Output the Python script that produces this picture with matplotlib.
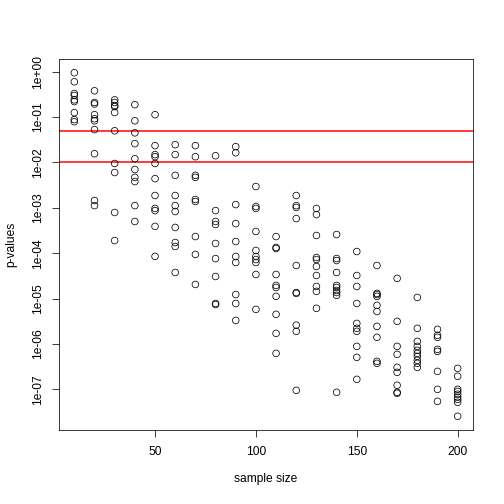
import matplotlib
matplotlib.use("Agg")
import matplotlib.pyplot as plt
import numpy as np

plt.rcParams['font.family'] = ['Liberation Sans', 'DejaVu Sans']

sample_sizes = [10, 20, 30, 40, 50, 60, 70, 80, 90, 100,
                110, 120, 130, 140, 150, 160, 170, 180, 190, 200]

pvals = {
    10: [0.95, 0.60, 0.33, 0.30, 0.24, 0.22, 0.125, 0.088, 0.079],
    20: [0.38, 0.21, 0.195, 0.113, 0.092, 0.083, 0.053, 0.0156, 0.00145, 0.00112],
    30: [0.24, 0.21, 0.18, 0.17, 0.126, 0.050, 0.0095, 0.0060, 0.00079, 0.00019],
    40: [0.188, 0.083, 0.045, 0.026, 0.0121, 0.0070, 0.0047, 0.0038, 0.00112, 0.00050],
    50: [0.113, 0.0235, 0.0149, 0.0134, 0.0095, 0.0044, 0.00187, 0.00097, 0.00087,
         0.00039, 0.000085],
    60: [0.0247, 0.0149, 0.0052, 0.00187, 0.00112, 0.00083, 0.00037, 0.000172,
         0.000141, 0.0000376],
    70: [0.0235, 0.0134, 0.0052, 0.0047, 0.00153, 0.00138, 0.000233, 0.000094, 0.0000205],
    80: [0.0141, 0.00087, 0.00050, 0.00043, 0.000164, 0.000076, 0.0000307,
         0.0000078, 0.0000074],
    90: [0.0223, 0.0164, 0.00118, 0.00045, 0.000181, 0.0000846, 0.0000624,
         0.0000123, 0.0000078, 0.0000033],
    100: [0.00295, 0.00107, 0.00097, 0.000301, 0.000115, 0.0000846, 0.0000726,
          0.0000624, 0.000034, 0.00000578],
    110: [0.000233, 0.000134, 0.000127, 0.000034, 0.0000195, 0.0000176, 0.0000112,
          0.0000045, 0.00000171, 0.00000062],
    120: [0.00187, 0.00112, 0.00102, 0.00058, 0.0000536, 0.0000136, 0.000013,
          0.0000026, 0.0000019, 0.000000095],
    130: [0.00097, 0.00071, 0.000246, 0.0000804, 0.0000726, 0.0000510, 0.0000323,
          0.0000185, 0.0000144, 0.0000061],
    140: [0.000258, 0.0000764, 0.000069, 0.0000376, 0.0000195, 0.0000176, 0.0000151,
          0.0000136, 0.0000118, 0.000000086],
    150: [0.000109, 0.0000323, 0.0000185, 0.0000078, 0.00000284, 0.00000221,
          0.0000019, 0.000000885, 0.000000507, 0.000000166],
    160: [0.0000536, 0.000013, 0.0000123, 0.0000112, 0.0000071, 0.0000052,
          0.00000244, 0.0000014, 0.000000414, 0.000000374],
    170: [0.0000279, 0.00000315, 0.000000885, 0.00000059, 0.000000305, 0.000000237,
          0.000000123, 0.000000086, 0.000000082],
    180: [0.0000106, 0.00000221, 0.00000114, 0.000000885, 0.000000723, 0.00000062,
          0.000000533, 0.000000436, 0.000000374, 0.000000305],
    190: [0.0000021, 0.00000155, 0.0000014, 0.00000076, 0.000000687, 0.000000249,
          0.0000001, 0.0000000544],
    200: [0.00000029, 0.000000194, 0.0000001, 0.00000009, 0.000000078, 0.000000067,
          0.00000006, 0.0000000518, 0.0000000255],
}

thresholds = [0.05, 0.01]
y_ticks = [1e0, 1e-1, 1e-2, 1e-3, 1e-4, 1e-5, 1e-6, 1e-7]
y_labels = ["1e+00", "1e-01", "1e-02", "1e-03", "1e-04", "1e-05", "1e-06", "1e-07"]
x_ticks = [50, 100, 150, 200]

xs, ys = [], []
for n in sample_sizes:
    for p in pvals[n]:
        xs.append(n)
        ys.append(p)
xs = np.array(xs)
ys = np.array(ys)

fig = plt.figure(figsize=(7, 7), dpi=72)
ax = fig.add_axes([59/504, 1 - 430/504, (473-59)/504, (430-59)/504])

ax.scatter(xs, ys, s=44, facecolors='none', edgecolors='black', linewidths=0.75, zorder=3)
for t in thresholds:
    ax.axhline(t, color='#ff0000', linewidth=1.5, zorder=2)

ax.set_yscale('log')
xr = xs.max() - xs.min()
ax.set_xlim(xs.min() - 0.04 * xr, xs.max() + 0.04 * xr)
lmin, lmax = np.log10(ys.min()), np.log10(ys.max())
lr = lmax - lmin
ax.set_ylim(10 ** (lmin - 0.04 * lr), 10 ** (lmax + 0.04 * lr))

ax.set_yticks(y_ticks)
ax.set_yticklabels(y_labels, rotation=90, va='center')
ax.yaxis.set_minor_locator(matplotlib.ticker.NullLocator())
ax.set_xticks(x_ticks)
ax.set_xticklabels([str(v) for v in x_ticks])

ax.tick_params(axis='both', direction='out', length=7, width=0.75, labelsize=12, colors='black')
ax.tick_params(axis='y', pad=8)
ax.tick_params(axis='x', pad=9)
for s in ax.spines.values():
    s.set_linewidth(0.75)

ax.set_xlabel("sample size", fontsize=12, labelpad=15)
ax.set_ylabel("p-values", fontsize=12, labelpad=15)

fig.savefig("out.png", dpi=72)
